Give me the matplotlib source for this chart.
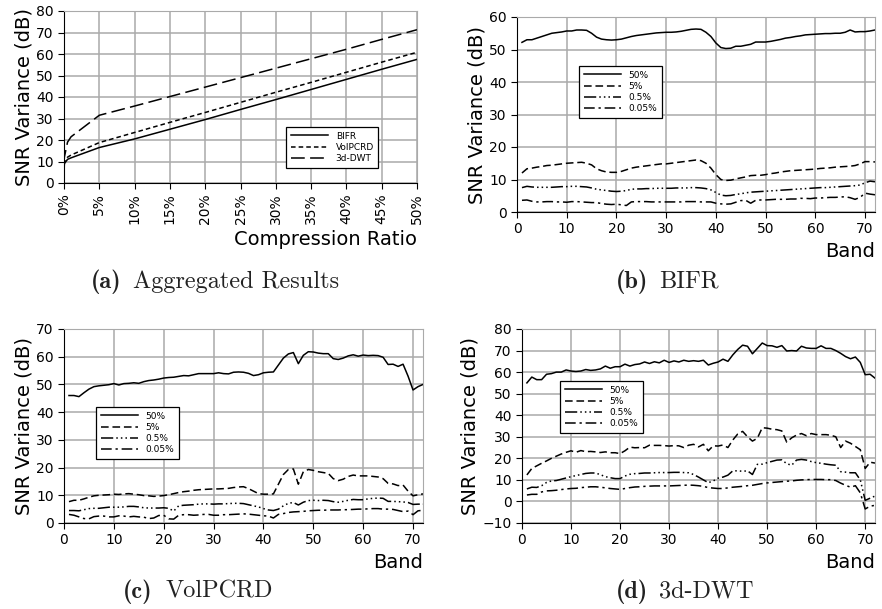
import matplotlib
matplotlib.use('Agg')
import matplotlib.pyplot as plt
import numpy as np

# (a) aggregated results, SNR variance vs compression ratio (%)
ratio = [0, 0.05, 0.5, 1, 5, 10, 15, 20, 25, 30, 35, 40, 45, 50]
agg_bifr = [4, 9, 11, 11.7, 16.5, 20.5, 25, 29.5, 34.2, 38.8, 43.5, 48.2, 52.9, 57.5]
agg_volpcrd = [5, 9.5, 12, 13, 18.8, 23.5, 28.2, 32.8, 37.5, 42.2, 46.8, 51.5, 56.2, 60.8]
agg_dwt = [9, 12, 19, 21.5, 31.5, 35.8, 40.2, 44.6, 49, 53.4, 57.8, 62.2, 66.8, 71.3]

bands = np.arange(1, 73)
levels = ['50%', '5%', '0.5%', '0.05%']

# (b) BIFR
bifr_50 = [52.2, 53, 53, 53.5, 54, 54.5, 55, 55.2, 55.4, 55.7, 55.7, 56, 56, 55.9, 55, 53.8, 53.2, 53, 52.9, 53,
           53.2, 53.6, 54, 54.3, 54.5, 54.7, 54.9, 55.1, 55.2, 55.3, 55.3, 55.4, 55.6, 55.9, 56.2, 56.3, 56.2, 55.3, 54, 52,
           50.6, 50.3, 50.4, 51, 51, 51.3, 51.6, 52.3, 52.3, 52.3, 52.5, 52.8, 53.1, 53.5, 53.7, 54, 54.2, 54.5, 54.6, 54.7,
           54.8, 54.9, 54.9, 55, 55, 55.3, 56, 55.4, 55.5, 55.5, 55.7, 56]
bifr_5 = [12, 13.3, 13.5, 13.8, 14, 14.3, 14.4, 14.6, 14.8, 15, 15.1, 15.2, 15.3, 15, 14.5, 13.3, 12.7, 12.3, 12.2, 12.2,
          12.5, 13, 13.5, 13.8, 14, 14.2, 14.4, 14.6, 14.8, 14.8, 15, 15.2, 15.4, 15.6, 15.8, 16, 15.8, 15, 13.5, 11.5,
          10, 9.7, 9.8, 10.2, 10.5, 10.8, 11.2, 11.3, 11.3, 11.5, 11.8, 12, 12.3, 12.5, 12.7, 12.8, 12.9, 13, 13.1, 13.2,
          13.4, 13.5, 13.6, 13.8, 13.9, 14, 14.1, 14.3, 14.8, 15.5, 15.5, 15.4]
bifr_05 = [7.5, 7.9, 7.7, 7.6, 7.6, 7.6, 7.6, 7.7, 7.8, 7.8, 7.9, 7.9, 7.8, 7.7, 7.4, 7, 6.8, 6.6, 6.4, 6.3,
           6.4, 6.6, 7, 7.1, 7.1, 7.2, 7.2, 7.3, 7.3, 7.3, 7.3, 7.4, 7.4, 7.4, 7.5, 7.5, 7.4, 7.2, 6.8, 6,
           5.2, 5, 5.1, 5.4, 5.6, 5.9, 6.1, 6.2, 6.3, 6.4, 6.5, 6.6, 6.7, 6.8, 6.9, 7, 7.1, 7.2, 7.3, 7.4,
           7.5, 7.5, 7.6, 7.7, 7.8, 7.9, 8, 8.1, 8.3, 9, 9.5, 9.3]
bifr_005 = [3.6, 3.7, 3.3, 3.1, 3.1, 3.2, 3.2, 3.1, 3.1, 3, 3.2, 3.2, 3.1, 3, 2.9, 2.9, 2.6, 2.4, 2.3, 2.4,
            2.2, 2, 3.1, 3.2, 3.2, 3.2, 3.1, 3.1, 3.1, 3.1, 3.1, 3.1, 3.1, 3.2, 3.2, 3.2, 3.1, 3.1, 3.1, 2.7,
            2.5, 2.4, 2.5, 3, 3.5, 3.6, 2.7, 3.6, 3.7, 3.7, 3.8, 3.9, 3.9, 3.9, 4, 4, 4.2, 4.2, 4.1, 4.3,
            4.3, 4.4, 4.5, 4.5, 4.6, 4.7, 4.4, 3.9, 4.5, 5.8, 5.5, 5.3]

# (c) VolPCRD
vol_50 = [46, 46, 45.6, 47, 48.3, 49.2, 49.5, 49.7, 49.9, 50.3, 49.8, 50.3, 50.4, 50.6, 50.4, 51, 51.4, 51.6, 51.9, 52.3,
          52.5, 52.6, 52.9, 53.2, 53.1, 53.5, 53.9, 53.9, 53.9, 53.9, 54.2, 53.9, 53.8, 54.4, 54.5, 54.4, 54, 53.2, 53.5, 54.2,
          54.4, 54.5, 57, 59.5, 61, 61.5, 57.5, 60.5, 61.8, 61.7, 61.3, 61.1, 61.1, 59.3, 59, 59.5, 60.3, 60.7, 60.2, 60.6,
          60.4, 60.5, 60.4, 59.8, 57.2, 57.3, 56.5, 57.3, 53, 48, 49.2, 50]
vol_5 = [7.7, 8.2, 8.2, 8.7, 9.3, 9.8, 10, 10.1, 10.2, 10.4, 10.3, 10.5, 10.6, 10.4, 10.2, 9.9, 9.8, 9.6, 9.7, 9.9,
         10.2, 10.6, 11, 11.3, 11.5, 11.8, 12, 12.1, 12.2, 12.3, 12.3, 12.4, 12.5, 12.8, 13, 13.1, 12.4, 11.5, 10.6, 10.4,
         10.4, 10.5, 14, 17.5, 19.3, 19.5, 14, 18.5, 19.3, 19, 18.5, 18.2, 17.9, 16, 15.3, 15.8, 16.8, 17.3, 17, 17,
         17, 16.8, 16.6, 16, 14.3, 14.1, 13.5, 13.7, 11.5, 9.8, 10.2, 10.5]
vol_05 = [4.5, 4.5, 4.4, 4.8, 5.2, 5.3, 5.3, 5.5, 5.7, 5.7, 5.7, 5.8, 6, 6, 5.8, 5.5, 5.4, 5.4, 5.4, 5.5,
          5.3, 4.3, 6.2, 6.4, 6.5, 6.6, 6.8, 6.9, 6.9, 6.8, 6.9, 6.9, 7, 7.1, 7.1, 7, 6.6, 6.2, 5.8, 5.2,
          4.7, 4.5, 5, 6.2, 7.1, 7.4, 6.5, 7.5, 8.1, 8.2, 8.1, 8.2, 8.1, 7.7, 7.5, 7.8, 8.2, 8.5, 8.4, 8.4,
          8.7, 8.9, 9, 8.9, 7.8, 7.8, 7.7, 7.6, 7.4, 6.7, 6.8, 6.8]
vol_005 = [3.1, 2.8, 2.2, 1.6, 1.5, 2.3, 2.5, 2.5, 2.2, 2.2, 2.6, 2.5, 2.2, 2.4, 2.2, 2.1, 1.6, 1.8, 2.7, 2.8,
           1.5, 1.4, 2.8, 3, 3, 2.8, 2.9, 3.1, 3.1, 2.8, 2.8, 3, 3, 3.1, 3.2, 3.3, 3.2, 3, 2.8, 2.6,
           2.5, 1.8, 3.1, 3.4, 3.8, 4, 4.1, 4.2, 4.4, 4.5, 4.6, 4.6, 4.7, 4.7, 4.7, 4.8, 4.8, 4.9, 5, 5,
           5.1, 5.2, 5.2, 5, 5, 4.9, 4.5, 4.1, 4.3, 3, 4.4, 4.6]

# (d) 3d-DWT
dwt_50 = [55, 57.7, 56.5, 56.5, 59, 59.3, 60, 60, 61, 60.5, 60.3, 60.5, 61.2, 60.8, 61, 61.5, 62.8, 61.8, 62.5, 62.5,
          63.7, 62.8, 63.5, 63.8, 64.7, 64, 64.8, 64.3, 65.5, 64.5, 65.2, 64.7, 65.5, 65, 65.3, 65, 65.5, 63.3, 64.1, 64.7,
          66, 65, 68, 70.5, 72.5, 72, 68.5, 71, 73.5, 72.3, 72.2, 71.5, 72.3, 69.8, 70, 69.8, 72, 71.2, 71, 71,
          72.2, 71, 71, 70, 68.7, 67.2, 66.2, 67, 64.5, 58.8, 59, 57.2]
dwt_5 = [12.3, 15.3, 16.5, 17.7, 18.8, 20, 21, 22, 22.8, 23.5, 22.8, 23.6, 23.1, 23.2, 23, 22.7, 23, 22.6, 22.6, 22.2,
         23.5, 25.2, 24.9, 25, 24.9, 26.1, 26, 26, 25.9, 25.7, 25.9, 25.8, 25, 26.1, 26.5, 25.3, 26.5, 23.5, 25.8, 25.7,
         26.2, 25, 28.5, 31.3, 32.5, 30, 28, 29.3, 34.2, 34, 33.5, 33.3, 32.7, 27.5, 29.5, 30.8, 31.5, 30.5, 31.5, 31,
         31, 31, 30.7, 30, 25, 28, 27, 25.5, 24, 15.3, 18.2, 17.8]
dwt_05 = [5.8, 6.6, 6.5, 7.3, 8.8, 9.5, 9.7, 10.3, 10.9, 11.5, 12, 12.5, 13, 13.2, 13.2, 12.4, 11.5, 11, 10.6, 10.6,
          11.8, 12.6, 12.9, 13, 13.2, 13.2, 13.3, 13.4, 13.4, 13.4, 13.5, 13.5, 13.4, 13.3, 12.5, 11.3, 10, 8.7, 9.5, 10.8,
          11.3, 12.2, 14.2, 14.2, 14, 14.2, 12.5, 17.2, 17.3, 18, 18.6, 19.2, 19.3, 17.5, 16.8, 19.2, 19.5, 19.2, 18.5, 18,
          17.7, 17.3, 17, 16.8, 13.8, 13.6, 13.3, 13.3, 10, 0.5, 1.5, 2.5]
dwt_005 = [3, 3.3, 3.3, 4.4, 4.9, 5, 5.2, 5.5, 5.8, 6, 6.1, 6.4, 6.6, 6.8, 6.8, 6.6, 6.3, 6, 5.8, 5.6,
           6, 6.4, 6.7, 6.8, 7, 7.1, 7.2, 7.2, 7.2, 7.2, 7.3, 7.4, 7.5, 7.6, 7.5, 7.3, 7, 6.4, 6.2, 6,
           6, 6.3, 6.6, 6.8, 7, 7.3, 7.5, 7.9, 8.3, 8.6, 8.8, 9, 9.2, 9.4, 9.5, 9.8, 10, 10.1, 10.2, 10.2,
           10.2, 10.1, 10.1, 9.7, 8.5, 7.5, 6.6, 7.3, 4, -3.5, -2.2, -1.8]

band_styles = ['-', (0, (5, 2.5)), (0, (8, 2, 1, 2, 1, 2, 1, 2)), (0, (7, 2.5, 1.5, 2.5))]

W, H = 882, 609
fig = plt.figure(figsize=(W / 100, H / 100), dpi=100)


def make_axes(l, t, r, b):
    ax = fig.add_axes([l / W, 1 - b / H, (r - l) / W, (b - t) / H])
    ax.grid(True, color='#aaaaaa', lw=1.1)
    ax.set_axisbelow(True)
    for s in ['top', 'right']:
        ax.spines[s].set_color('#aaaaaa')
    ax.tick_params(labelsize=10, length=4)
    ax.set_ylabel('SNR Variance (dB)', fontsize=14, labelpad=2)
    return ax


def add_legend(ax, handles, labels, x, y):
    leg = ax.legend(handles, labels, loc='upper left', bbox_to_anchor=(x / W, 1 - y / H),
                    bbox_transform=fig.transFigure, fontsize=6.5, fancybox=False,
                    edgecolor='black', framealpha=1, handlelength=4.2, labelspacing=0.25,
                    borderpad=0.5, borderaxespad=0)
    leg.get_frame().set_linewidth(0.9)


def caption(tag, text, xa, xb, y):
    fig.text(xa / W, 1 - y / H, tag, fontfamily='cmb10', fontsize=17.5, color='#222222', ha='left', va='baseline')
    fig.text(xb / W, 1 - y / H, text, fontfamily='cmr10', fontsize=17.5, color='#222222', ha='left', va='baseline')


# (a)
ax = make_axes(64, 11, 417, 183)
la, = ax.plot(ratio, agg_bifr, 'k-', lw=1.1)
lb, = ax.plot(ratio, agg_volpcrd, 'k', ls=(0, (3, 2)), lw=1.1)
lc, = ax.plot(ratio, agg_dwt, 'k', ls=(0, (9, 3.5)), lw=1.1)
ax.set_xlim(0, 50)
ax.set_ylim(0, 80)
ax.set_xticks(np.arange(0, 51, 5))
ax.set_xticklabels(['%d%%' % v for v in range(0, 51, 5)], rotation=90)
ax.set_yticks(np.arange(0, 81, 10))
ax.set_xlabel('Compression Ratio', fontsize=14, loc='right')
add_legend(ax, [la, lb, lc], ['BIFR', 'VolPCRD', '3d-DWT'], 286, 127)
caption('(a)', 'Aggregated Results', 91, 133, 288)

panels = [
    ((517, 17, 875, 212), [bifr_50, bifr_5, bifr_05, bifr_005], (0, 60), (579, 66), ('(b)', 'BIFR', 616, 659, 288)),
    ((64, 329, 423, 523), [vol_50, vol_5, vol_05, vol_005], (0, 70), (96, 407), ('(c)', 'VolPCRD', 123, 166, 598)),
    ((522, 329, 875, 523), [dwt_50, dwt_5, dwt_05, dwt_005], (-10, 80), (560, 381), ('(d)', '3d-DWT', 616, 659, 598)),
]

for box, series, ylim, legpos, cap in panels:
    ax = make_axes(*box)
    hs = []
    for vals, st in zip(series, band_styles):
        h, = ax.plot(bands, vals, color='k', ls=st, lw=1.1)
        hs.append(h)
    ax.set_xlim(0, 72)
    ax.set_ylim(*ylim)
    ax.set_xticks(np.arange(0, 71, 10))
    ax.set_yticks(np.arange(ylim[0], ylim[1] + 1, 10))
    ax.set_xlabel('Band', fontsize=14, loc='right')
    add_legend(ax, hs, levels, *legpos)
    caption(*cap)

fig.savefig('out.png', dpi=100)
